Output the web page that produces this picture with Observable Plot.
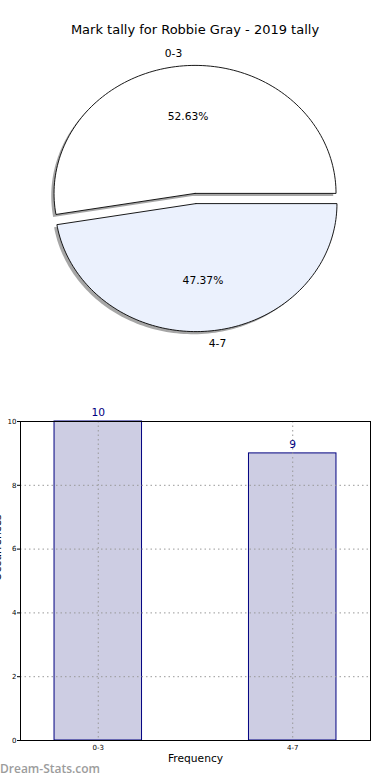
<!DOCTYPE html>
<html><head><meta charset="utf-8">
<script src="https://cdn.jsdelivr.net/npm/d3@7"></script>
<script src="https://cdn.jsdelivr.net/npm/@observablehq/plot@0.6"></script>
<style>
body{margin:0;background:#fff;font-family:"DejaVu Sans",sans-serif;}
#wrap{position:relative;width:390px;height:780px;overflow:hidden;background:#fff;}
#title{position:absolute;top:22px;left:0;width:390px;text-align:center;font-size:13px;color:#000;}
#pie{position:absolute;top:40px;left:0;}
#bar{position:absolute;top:390px;left:0;}
#wm{position:absolute;left:0;top:761px;font-family:"Open Sans",sans-serif;font-size:12px;font-weight:600;color:#9c9c9c;line-height:16px;}
</style></head><body>
<div id="wrap">
<div id="title">Mark tally for Robbie Gray - 2019 tally</div>
<div id="pie"></div>
<div id="bar"></div>
<div id="wm">Dream-Stats.com</div>
</div>
<script>
const categories = ["0-3", "4-7"];
const counts = [10, 9];
const pctLabels = ["52.63%", "47.37%"];
const sliceColors = ["#ffffff", "#ebf1fd"];
const explode = [0.04, 0.04];

// ---------- pie ----------
const total = d3.sum(counts);
let start = 0;
const slices = counts.map((v, i) => {
  const t1 = start, t2 = start + 2 * Math.PI * v / total;
  start = t2;
  const mid = (t1 + t2) / 2;
  const cx = explode[i] * Math.cos(mid), cy = explode[i] * Math.sin(mid);
  const pts = [{x: cx, y: cy}];
  const N = 120;
  for (let k = 0; k <= N; k++) {
    const t = t1 + (t2 - t1) * k / N;
    pts.push({x: cx + Math.cos(t), y: cy + Math.sin(t)});
  }
  pts.push({x: cx, y: cy});
  return {i, mid, cx, cy, pts};
});
const pieLabels = slices.map(s => ({
  x: s.cx + 1.1 * Math.cos(s.mid), y: s.cy + 1.1 * Math.sin(s.mid),
  text: categories[s.i], anchor: Math.cos(s.mid) < 0 ? "end" : "start"
}));
const pctPos = slices.map(s => ({
  x: s.cx + 0.6 * Math.cos(s.mid), y: s.cy + 0.6 * Math.sin(s.mid), text: pctLabels[s.i]
}));

const pieMarks = [];
slices.forEach(s => pieMarks.push(Plot.line(s.pts, {x: "x", y: "y", fill: "#4d4d4d", fillOpacity: 0.5, stroke: "none", dx: -2.8, dy: 2.6})));
slices.forEach(s => pieMarks.push(Plot.line(s.pts, {x: "x", y: "y", fill: sliceColors[s.i], stroke: "#000", strokeWidth: 0.9, strokeLinejoin: "miter"})));
pieMarks.push(Plot.text(pieLabels.filter(d => d.anchor === "end"), {x: "x", y: "y", text: "text", textAnchor: "end", fontSize: 10.7, fill: "#000"}));
pieMarks.push(Plot.text(pieLabels.filter(d => d.anchor === "start"), {x: "x", y: "y", text: "text", textAnchor: "start", fontSize: 10.7, fill: "#000"}));
pieMarks.push(Plot.text(pctPos, {x: "x", y: "y", text: "text", fontSize: 10.7, fill: "#000"}));

const pie = Plot.plot({
  width: 390, height: 320, margin: 0,
  style: {fontFamily: "DejaVu Sans", background: "transparent"},
  x: {domain: [-195 / 141, 195 / 141], axis: null},
  y: {domain: [-162 / 128, 158 / 128], axis: null},
  marks: pieMarks
});
document.getElementById("pie").append(pie);

// ---------- bar ----------
const idx = categories.map((_, i) => i);
const barW = 0.45;
const bar = Plot.plot({
  width: 390, height: 390,
  marginTop: 31, marginBottom: 40, marginLeft: 20, marginRight: 20,
  style: {fontFamily: "DejaVu Sans", background: "transparent"},
  x: {domain: [-0.4, 1.4]},
  y: {domain: [0, 10]},
  marks: [
    Plot.rect(idx, {x1: i => i - barW / 2, x2: i => i + barW / 2, y1: 0, y2: i => counts[i], fill: "#cdcde3", stroke: "#000080", strokeWidth: 1}),
    Plot.gridY({ticks: [0, 2, 4, 6, 8, 10], stroke: "#999", strokeOpacity: 1, strokeDasharray: "1.5,3"}),
    Plot.gridX({ticks: [0, 1], stroke: "#999", strokeOpacity: 1, strokeDasharray: "1.5,3"}),
    Plot.frame({stroke: "#000", strokeWidth: 1}),
    Plot.text(idx, {x: i => i, y: i => counts[i], text: i => String(counts[i]), dy: -9, fill: "#000080", fontSize: 10.7}),
    Plot.axisY({ticks: [0, 2, 4, 6, 8, 10], tickSize: 3, tickPadding: 1, fontSize: 7, label: null}),
    Plot.axisX({ticks: [0, 1], tickFormat: i => categories[i], tickSize: 0, tickPadding: 5, fontSize: 7, label: null}),
    Plot.text(["Frequency"], {frameAnchor: "bottom", dy: 21, fontSize: 10.7, fill: "#000"}),
    Plot.text(["Occurrences"], {frameAnchor: "left", rotate: -90, dx: -23, fontSize: 10.7, fill: "#000"})
  ]
});
document.getElementById("bar").append(bar);
</script>
</body></html>
